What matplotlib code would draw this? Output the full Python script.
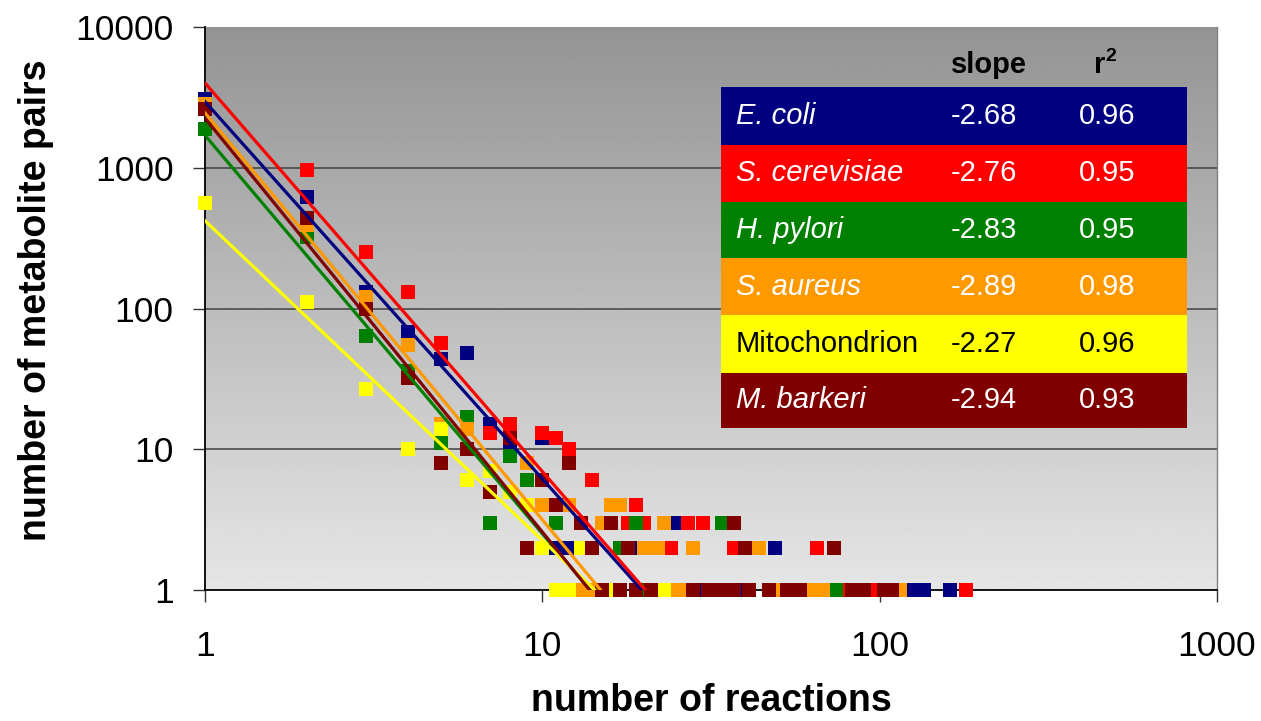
import numpy as np
import matplotlib.pyplot as plt
from matplotlib.patches import Rectangle
from matplotlib.ticker import NullLocator

plt.rcParams['font.family'] = ['Liberation Sans', 'DejaVu Sans']

# degree distributions: x = number of reactions, y = number of metabolite pairs
ecoli_x = [1, 2, 3, 4, 5, 6, 7, 8, 10, 11, 12, 19, 25, 49,
           13, 16, 20, 30, 40, 60, 125, 135, 162]
ecoli_y = [3100, 620, 130, 68, 44, 48, 15, 11, 12, 2, 2, 2, 3, 2,
           1, 1, 1, 1, 1, 1, 1, 1, 1]

scer_x = [1, 2, 3, 4, 5, 7, 8, 10, 11, 12, 14, 18, 19, 20, 24, 27, 30, 37, 65,
          21, 35, 79, 94, 180]
scer_y = [2700, 970, 250, 130, 57, 13, 15, 13, 12, 10, 6, 3, 4, 3, 2, 3, 3, 2, 2,
          1, 1, 1, 1, 1]

hpyl_x = [1, 2, 3, 4, 5, 6, 7, 8, 9, 11, 17, 19, 34,
          20, 36, 74]
hpyl_y = [1900, 324, 64, 36, 11, 17, 3, 9, 6, 3, 2, 3, 3,
          1, 1, 1]

saur_x = [1, 2, 3, 4, 5, 6, 9, 10, 12, 15, 16, 17, 20, 22, 23, 28, 44,
          13, 14, 25, 26, 50, 63, 68, 115]
saur_y = [2850, 392, 120, 55, 15, 14, 8, 4, 4, 3, 4, 4, 2, 2, 3, 2, 2,
          1, 1, 1, 1, 1, 1, 1, 1]

mito_x = [1, 2, 3, 4, 5, 6, 7, 8, 9, 10, 13,
          11, 12, 16, 22, 23]
mito_y = [565, 111, 27, 10, 14, 6, 7, 5, 4, 2, 2,
          1, 1, 1, 1, 1]

mbar_x = [1, 2, 3, 4, 5, 6, 7, 8, 9, 10, 11, 12, 13, 14, 16, 18, 37, 40, 73,
          15, 17, 19, 21, 28, 31, 34, 37, 41, 47, 53, 58, 83, 90, 103, 109]
mbar_y = [2600, 437, 100, 32, 8, 10, 5, 12, 2, 6, 4, 8, 3, 2, 3, 2, 3, 2, 2,
          1, 1, 1, 1, 1, 1, 1, 1, 1, 1, 1, 1, 1, 1, 1, 1]

names = ["E. coli", "S. cerevisiae", "H. pylori", "S. aureus", "Mitochondrion", "M. barkeri"]
slopes = [-2.68, -2.76, -2.83, -2.89, -2.27, -2.94]
r2 = [0.96, 0.95, 0.95, 0.98, 0.96, 0.93]
fit_at_1 = [2950, 4000, 1700, 2450, 420, 2250]   # power-law fit value at x=1
colors = ["#000080", "#FF0000", "#008000", "#FF9900", "#FFFF00", "#800000"]
text_colors = ["white", "white", "white", "white", "black", "white"]

series = [(ecoli_x, ecoli_y), (scer_x, scer_y), (hpyl_x, hpyl_y),
          (saur_x, saur_y), (mito_x, mito_y), (mbar_x, mbar_y)]

W, H = 1261, 721
fig = plt.figure(figsize=(W / 100, H / 100), dpi=100)
ax = fig.add_axes([205 / W, 1 - 590 / H, (1217 - 205) / W, (590 - 27) / H])

# grey gradient background
grad = np.linspace(0.9, 0.58, 256).reshape(-1, 1)
ax.imshow(grad, extent=[0, 1, 0, 1], transform=ax.transAxes, aspect='auto',
          cmap='gray', vmin=0, vmax=1, origin='lower', zorder=0)

ax.set_xscale('log')
ax.set_yscale('log')

for yv in [10, 100, 1000]:
    ax.axhline(yv, color='#404040', lw=1.1, zorder=1)

for (xs, ys), c in zip(series, colors):
    ax.plot(xs, ys, 's', color=c, ms=9.4, mew=0, zorder=3, clip_on=False)

xx = np.array([1, 100])
for a, s, c in zip(fit_at_1, slopes, colors):
    ax.plot(xx, a * xx ** s, '-', color=c, lw=2.3, zorder=4)

ax.set_xlim(1, 1000)
ax.set_ylim(1, 10000)
ax.set_xticks([1, 10, 100, 1000])
ax.set_xticklabels(["1", "10", "100", "1000"])
ax.set_yticks([1, 10, 100, 1000, 10000])
ax.set_yticklabels(["1", "10", "100", "1000", "10000"])
ax.xaxis.set_minor_locator(NullLocator())
ax.yaxis.set_minor_locator(NullLocator())
ax.tick_params(axis='both', labelsize=25.5, length=8.6, width=1, color='#333333')
ax.tick_params(axis='x', pad=20)
ax.tick_params(axis='y', pad=14)

ax.spines['top'].set_visible(False)
ax.spines['right'].set_color('#808080')
ax.spines['right'].set_linewidth(1)
ax.spines['left'].set_linewidth(1.3)
ax.spines['bottom'].set_linewidth(1.3)

fig.text(36 / W, 1 - 300 / H, "number of metabolite pairs", rotation=90,
         fontsize=27, fontweight='bold', ha='center', va='center')
fig.text(711 / W, 1 - 711 / H, "number of reactions",
         fontsize=27, fontweight='bold', ha='center', va='baseline')

# slope / r^2 table
rows = [87, 145, 201.5, 258, 315, 372.5, 428.5]
for i in range(6):
    top, bot = rows[i], rows[i + 1]
    fig.add_artist(Rectangle((721 / W, 1 - bot / H), (1187 - 721) / W, (bot - top) / H,
                             transform=fig.transFigure, facecolor=colors[i],
                             edgecolor='none', zorder=5))
    yc = 1 - (top + bot) / 2 / H
    style = 'normal' if names[i] == "Mitochondrion" else 'italic'
    fig.text(736 / W, yc, names[i], color=text_colors[i], fontsize=21,
             style=style, va='center', zorder=6)
    fig.text(951 / W, yc, f"{slopes[i]:.2f}", color=text_colors[i], fontsize=21,
             va='center', zorder=6)
    fig.text(1079 / W, yc, f"{r2[i]:.2f}", color=text_colors[i], fontsize=21,
             va='center', zorder=6)

fig.text(951 / W, 1 - 73 / H, "slope", fontsize=21, fontweight='bold', va='baseline')
fig.text(1094 / W, 1 - 73 / H, "r", fontsize=21, fontweight='bold', va='baseline')
fig.text(1105 / W, 1 - 61 / H, "2", fontsize=14, fontweight='bold', va='baseline')

fig.savefig("out.png", dpi=100)
